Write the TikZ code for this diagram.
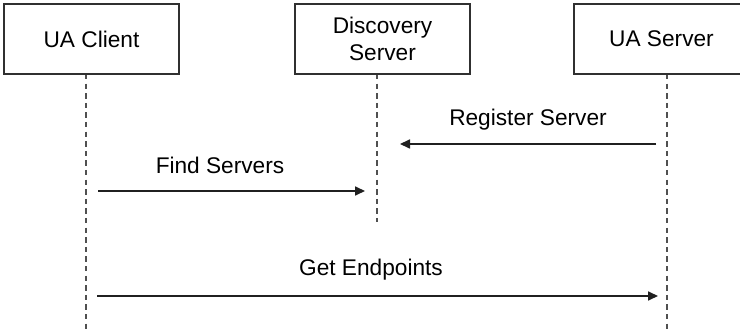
\documentclass[tikz,border=0pt]{standalone}
\usepackage{fontspec}
\setmainfont{Liberation Sans}
\usetikzlibrary{arrows.meta}
\definecolor{boxline}{HTML}{303030}
\definecolor{lifeline}{HTML}{505050}
\definecolor{msgline}{HTML}{202020}
\begin{document}
\begin{tikzpicture}[x=0.75pt,y=-0.75pt,
  actor/.style={draw=boxline,line width=0.9pt,fill=white,minimum width=131.25pt,minimum height=52.5pt,inner sep=0pt,align=center,font=\fontsize{17}{20.5}\selectfont},
  life/.style={draw=lifeline,line width=0.9pt,dash pattern=on 4pt off 3.2pt},
  msg/.style={draw=msgline,line width=1.1pt,-{Triangle[length=7.5pt,width=6.8pt]}},
  lbl/.style={font=\fontsize{17}{20.5}\selectfont,inner sep=0pt}]
\clip (0,0) rectangle (740,335);
\fill[white] (0,0) rectangle (740,335);
% lifelines
\coordinate (c1) at (86,74);
\coordinate (c1e) at (86,331);
\coordinate (d1) at (377,74);
\coordinate (d1e) at (377,222);
\coordinate (s1) at (667,74);
\coordinate (s1e) at (667,331);
\draw[life] (c1) -- (c1e);
\draw[life] (d1) -- (d1e);
\draw[life] (s1) -- (s1e);
% actors
\node[actor] (client) at (91.5,39) {UA Client};
\node[actor] (disc) at (382.5,39) {Discovery\\Server};
\node[actor] (server) at (661.5,39) {UA Server};
% messages
\coordinate (rs) at (656,144);
\coordinate (re) at (400,144);
\coordinate (fs) at (98,191);
\coordinate (fe) at (365,191);
\coordinate (gs) at (97,296);
\coordinate (ge) at (658,296);
\draw[msg] (rs) -- (re);
\draw[msg] (fs) -- (fe);
\draw[msg] (gs) -- (ge);
\node[lbl] (lr) at (528,120) {Register Server};
\node[lbl] (lf) at (220,165) {Find Servers};
\node[lbl] (lg) at (371,270) {Get Endpoints};
\end{tikzpicture}
\end{document}
